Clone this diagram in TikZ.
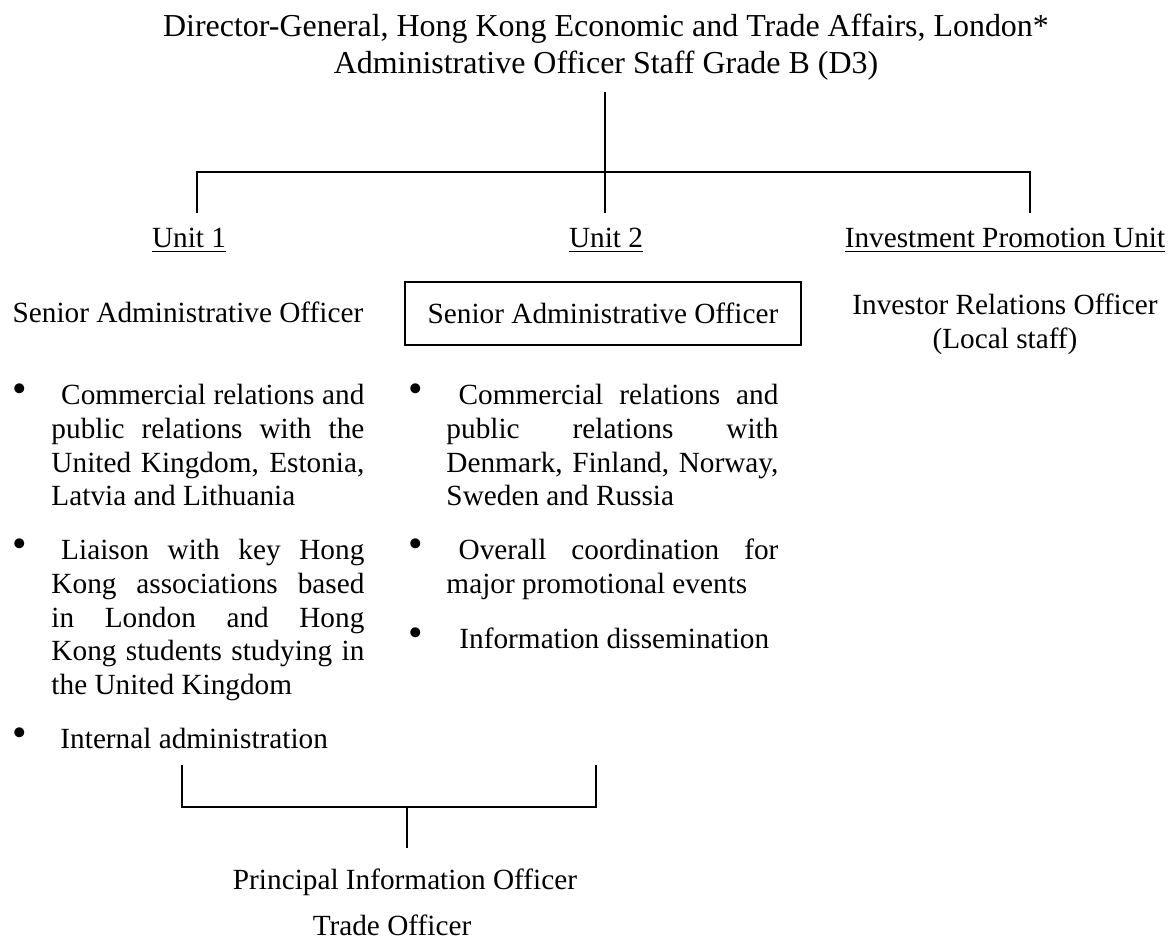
\documentclass[tikz,border=0pt]{standalone}
\usepackage{fontspec}
\setmainfont{Liberation Serif}

\begin{document}
\begin{tikzpicture}
[x=0.41pt,y=-0.41pt,
  every node/.style={inner sep=0pt,font=\fontsize{12}{13.8}\selectfont},
  label/.style={anchor=base},
  headline/.style={anchor=base,font=\fontsize{13.1}{15}\selectfont},
  postbox/.style={draw,line width=0.6pt,minimum width=162.4pt,minimum height=25.8pt},
  bulletmark/.style={anchor=center,font=\fontsize{17}{17}\selectfont},
  duties/.style={anchor=base west,align=justify},
  orgline/.style={-,line width=0.8pt}]
\useasboundingbox (0,0) rectangle (1168,940);
% nodes or vertices
% head of office
\node (dg) at (606,37) [headline] {Director-General, Hong Kong Economic and Trade Affairs, London*};
\node (dggrade) at (606,74) [headline] {Administrative Officer Staff Grade B (D3)};
% units
\node (unitone) at (189,248) [label] {\underline{Unit 1}};
\node (unittwo) at (606,248) [label] {\underline{Unit 2}};
\node (ipu) at (1005,248) [label] {\underline{Investment Promotion Unit}};
% posts under the units
\node (saoone) at (188,323) [label] {Senior Administrative Officer};
\node (saotwo) at (603,313.5) [postbox] {Senior Administrative Officer};
\node (iro) at (1005,315) [label] {Investor Relations Officer};
\node (irolocal) at (1005,349) [label] {(Local staff)};
% duties of unit 1
\node (bone) at (20,393) [bulletmark] {\textbullet};
\node (dutyone) at (51,405) [duties,text width=128.3pt]
  {\hspace*{4pt}Commercial relations and\linebreak public relations with the\linebreak
   United Kingdom, Estonia,\linebreak Latvia and Lithuania};
\node (btwo) at (20,548) [bulletmark] {\textbullet};
\node (dutytwo) at (51,560) [duties,text width=128.3pt]
  {\hspace*{4pt}Liaison with key Hong\linebreak Kong associations based\linebreak
   in London and Hong\linebreak Kong students studying in\linebreak the United Kingdom};
\node (bthree) at (20,737) [bulletmark] {\textbullet};
\node (dutythree) at (60,749) [anchor=base west] {Internal administration};
% duties of unit 2
\node (bfour) at (416,393) [bulletmark] {\textbullet};
\node (dutyfour) at (446,405) [duties,text width=136.1pt]
  {\hspace*{5pt}Commercial relations and\linebreak public relations with\linebreak
   Denmark, Finland, Norway,\linebreak Sweden and Russia};
\node (bfive) at (416,548) [bulletmark] {\textbullet};
\node (dutyfive) at (446,560) [duties,text width=136.1pt]
  {\hspace*{5pt}Overall coordination for\linebreak major promotional events};
\node (bsix) at (416,637) [bulletmark] {\textbullet};
\node (dutysix) at (459,649) [anchor=base west] {Information dissemination};
% shared posts
\node (pio) at (405,890) [label] {Principal Information Officer};
\node (tro) at (392,936) [label] {Trade Officer};
% line ends
\coordinate (dgfoot) at (605,92);
\coordinate (hubl) at (197,172);
\coordinate (hubr) at (1030,172);
\coordinate (dropl) at (197,213);
\coordinate (dropm) at (605,213);
\coordinate (dropr) at (1030,213);
\coordinate (brl) at (182,765);
\coordinate (brr) at (596,765);
\coordinate (brbl) at (182,807);
\coordinate (brbr) at (596,807);
\coordinate (brmid) at (407,807);
\coordinate (brfoot) at (407,848);
% edges or lines
\draw[orgline] (dgfoot) -- (dropm);
\draw[orgline] (dropl) -- (hubl) -- (hubr) -- (dropr);
\draw[orgline] (brl) -- (brbl) -- (brbr) -- (brr);
\draw[orgline] (brmid) -- (brfoot);
\end{tikzpicture}
\end{document}
